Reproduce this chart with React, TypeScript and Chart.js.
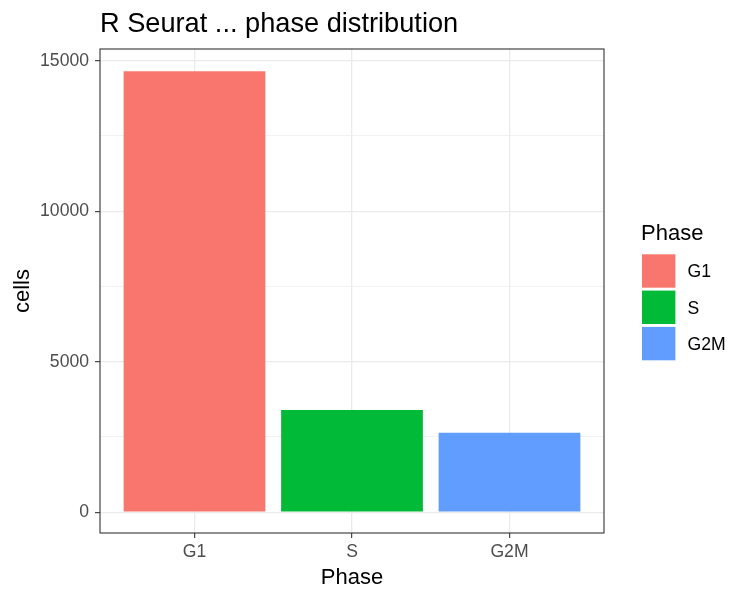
import { useEffect, useRef } from "react";
import { Chart, registerables, type ChartConfiguration, type Plugin } from "chart.js";

Chart.register(...registerables);

const phases = ["G1", "S", "G2M"];
const cellCounts = [14650, 3400, 2640];
const phaseColors = ["#F8766D", "#00BA38", "#619CFF"];
const yMajorTicks = [0, 5000, 10000, 15000];
const yMinorTicks = [2500, 7500, 12500];

const chartTitle = "R Seurat ... phase distribution";
const xTitle = "Phase";
const yTitle = "cells";
const legendTitle = "Phase";

const FONT = "'Liberation Sans', Arial, sans-serif";

const ggDecor: Plugin<"bar"> = {
  id: "ggDecor",
  afterDraw(chart) {
    const { ctx, chartArea } = chart;
    const { left, right, top, bottom } = chartArea;
    ctx.save();

    // panel border
    ctx.strokeStyle = "#333333";
    ctx.lineWidth = 1.1;
    ctx.strokeRect(left, top, right - left, bottom - top);

    ctx.fillStyle = "#000000";
    ctx.textBaseline = "alphabetic";

    // title
    ctx.font = `27.2px ${FONT}`;
    ctx.textAlign = "left";
    ctx.fillText(chartTitle, left, 32);

    // x axis title
    ctx.font = `22px ${FONT}`;
    ctx.textAlign = "center";
    ctx.fillText(xTitle, (left + right) / 2, 584);

    // y axis title
    ctx.save();
    ctx.translate(29, (top + bottom) / 2);
    ctx.rotate(-Math.PI / 2);
    ctx.fillText(yTitle, 0, 0);
    ctx.restore();

    // legend
    ctx.textAlign = "left";
    ctx.font = `22px ${FONT}`;
    ctx.fillText(legendTitle, 641, 240);
    const keySize = 33.4;
    const keyPitch = 36.3;
    phases.forEach((label, i) => {
      const ky = 254.3 + i * keyPitch;
      ctx.fillStyle = phaseColors[i];
      ctx.fillRect(642, ky, keySize, keySize);
      ctx.fillStyle = "#000000";
      ctx.font = `17.6px ${FONT}`;
      ctx.fillText(label, 687.5, ky + keySize / 2 + 6.3);
    });

    ctx.restore();
  },
};

export default function App() {
  const canvasRef = useRef<HTMLCanvasElement>(null);
  const chartRef = useRef<Chart<"bar", { x: number; y: number }[], string> | null>(null);

  useEffect(() => {
    document.body.style.margin = "0";
    const canvas = canvasRef.current;
    if (!canvas) {
      return;
    }
    if (chartRef.current) {
      chartRef.current.destroy();
    }

    const config: ChartConfiguration<"bar", { x: number; y: number }[], string> = {
      type: "bar",
      data: {
        datasets: [
          {
            label: "cells",
            data: cellCounts.map((v, i) => ({ x: i, y: v })),
            backgroundColor: phaseColors,
            borderWidth: 0,
            barPercentage: 0.9,
            categoryPercentage: 1,
          },
        ],
      },
      options: {
        animation: false,
        responsive: true,
        maintainAspectRatio: false,
        layout: {
          padding: { left: 0, top: 49, right: 146, bottom: 0 },
        },
        plugins: {
          legend: { display: false },
          tooltip: { enabled: false },
        },
        scales: {
          x: {
            type: "linear",
            min: -0.6,
            max: phases.length - 1 + 0.6,
            offset: false,
            afterBuildTicks: (scale) => {
              scale.ticks = phases.map((_, i) => ({ value: i }));
            },
            afterFit: (scale) => {
              scale.height = 67;
            },
            grid: {
              offset: false,
              color: "#EBEBEB",
              lineWidth: 1.3,
              tickColor: "#333333",
              tickWidth: 1.1,
              tickLength: 5,
            },
            border: { display: false },
            ticks: {
              padding: 4,
              color: "#4D4D4D",
              font: { family: FONT, size: 17.6 },
              maxRotation: 0,
              autoSkip: false,
              callback: (value) => phases[Number(value)] ?? "",
            },
          },
          y: {
            min: -690,
            max: 15390,
            afterBuildTicks: (scale) => {
              scale.ticks = [...yMajorTicks, ...yMinorTicks]
                .sort((a, b) => a - b)
                .map((v) => ({ value: v }));
            },
            afterFit: (scale) => {
              scale.width = 100;
            },
            grid: {
              color: "#EBEBEB",
              lineWidth: (ctx) => (yMajorTicks.includes(ctx.tick?.value) ? 1.3 : 0.65),
              tickColor: (ctx) =>
                yMajorTicks.includes(ctx.tick?.value) ? "#333333" : "rgba(0,0,0,0)",
              tickWidth: 1.1,
              tickLength: 5,
            },
            border: { display: false },
            ticks: {
              padding: 6,
              color: "#4D4D4D",
              font: { family: FONT, size: 17.6 },
              autoSkip: false,
              callback: (value) => (yMajorTicks.includes(Number(value)) ? String(value) : ""),
            },
          },
        },
      },
      plugins: [ggDecor],
    };

    chartRef.current = new Chart(canvas, config);

    return () => {
      chartRef.current?.destroy();
      chartRef.current = null;
    };
  }, []);

  return (
    <div style={{ position: "absolute", left: 0, top: 0, width: 750, height: 600 }}>
      <canvas ref={canvasRef} />
    </div>
  );
}
